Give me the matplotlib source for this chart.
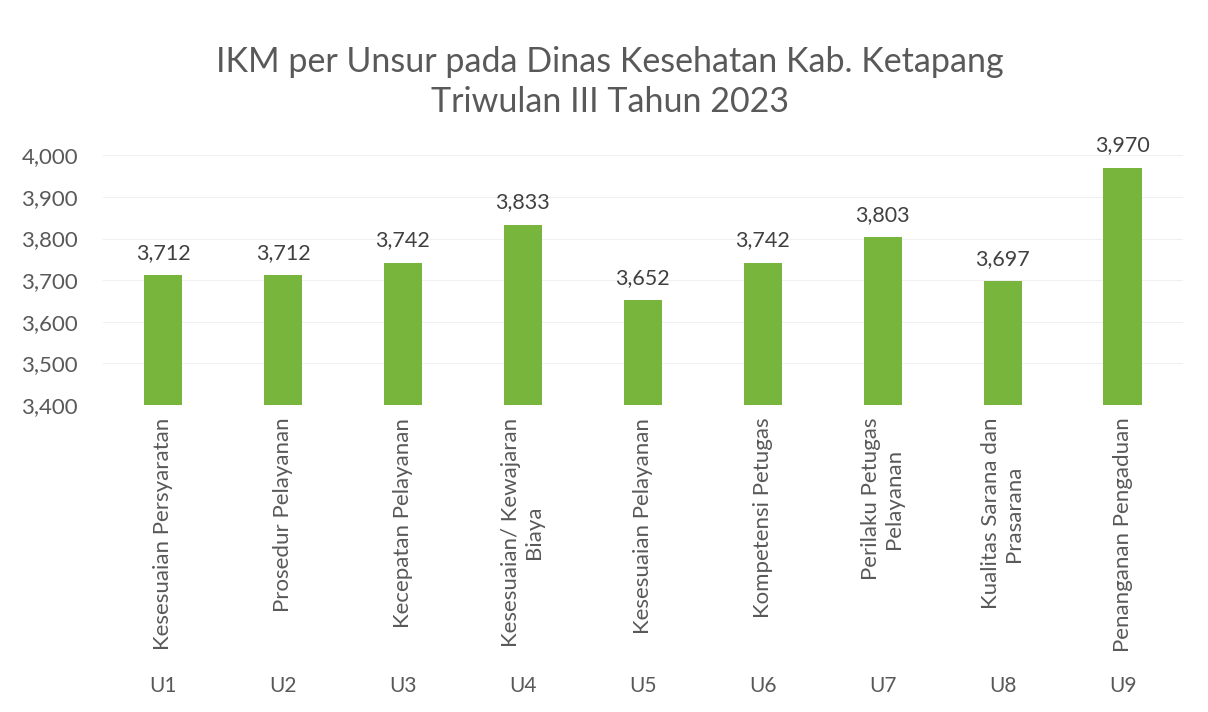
import matplotlib.pyplot as plt
from matplotlib.ticker import FuncFormatter

plt.rcParams['font.family'] = ['Lato', 'DejaVu Sans']

kode = ['U1', 'U2', 'U3', 'U4', 'U5', 'U6', 'U7', 'U8', 'U9']
unsur = ['Kesesuaian Persyaratan', 'Prosedur Pelayanan', 'Kecepatan Pelayanan',
         'Kesesuaian/ Kewajaran\nBiaya', 'Kesesuaian Pelayanan', 'Kompetensi Petugas',
         'Perilaku Petugas\nPelayanan', 'Kualitas Sarana dan\nPrasarana',
         'Penanganan Pengaduan']
nilai = [3.712, 3.712, 3.742, 3.833, 3.652, 3.742, 3.803, 3.697, 3.970]

abu = '#595959'
hijau = '#77b53c'

fig = plt.figure(figsize=(12.08, 7.12), dpi=100)
ax = fig.add_axes([0.0853, 0.431, 0.8937, 0.351])

x = list(range(len(nilai)))
ax.bar(x, nilai, width=0.32, color=hijau, zorder=2)
for xi, v in zip(x, nilai):
    ax.text(xi, v + 0.03, '{:,.3f}'.format(v).replace('.', ','), ha='center', va='bottom',
            fontsize=15.5, color='#404040', clip_on=False)

ax.set_xlim(-0.5, len(nilai) - 0.5)
ax.set_ylim(3.4, 4.0)
ax.set_yticks([3.4, 3.5, 3.6, 3.7, 3.8, 3.9, 4.0])
ax.yaxis.set_major_formatter(FuncFormatter(lambda v, p: '{:.3f}'.format(v).replace('.', ',')))
ax.tick_params(axis='y', length=0, labelsize=16, labelcolor=abu, pad=18)
ax.tick_params(axis='x', length=0)
ax.set_xticks([])
ax.grid(axis='y', color='#f0f0f0', linewidth=0.8, zorder=0)
for s in ax.spines.values():
    s.set_visible(False)

# two-level category axis
for xi, lab, k in zip(x, unsur, kode):
    ax.annotate(lab, xy=(xi, 3.4), xytext=(0, -9), textcoords='offset points',
                rotation=90, ha='center', va='top', multialignment='center',
                fontsize=16, color=abu, annotation_clip=False)
    ax.annotate(k, xy=(xi, 3.4), xytext=(0, -202), textcoords='offset points',
                ha='center', va='center', fontsize=15, color=abu, annotation_clip=False)

fig.text(0.505, 0.913, 'IKM per Unsur pada Dinas Kesehatan Kab. Ketapang',
         ha='center', va='center', fontsize=24.5, color=abu)
fig.text(0.505, 0.857, 'Triwulan III Tahun 2023',
         ha='center', va='center', fontsize=24.5, color=abu)

plt.savefig('out.png', dpi=100)
